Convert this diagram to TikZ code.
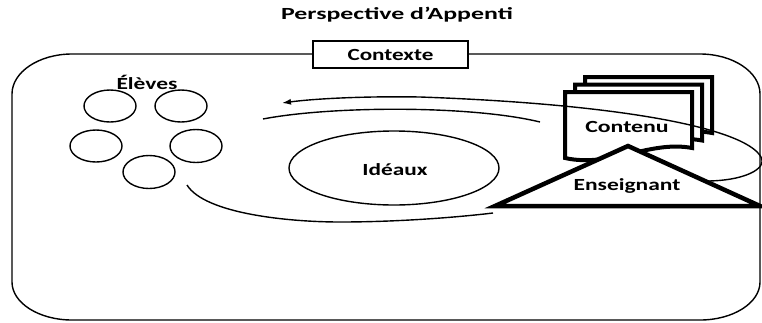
\documentclass[tikz,border=0pt]{standalone}
\usepackage{fontspec}
\setmainfont{Carlito}
\usepackage{graphicx}
\usetikzlibrary{arrows.meta}
\newcommand{\wtext}[2]{\scalebox{#1}[1]{#2}}
\begin{document}
\begin{tikzpicture}[x=1pt,y=-1pt,
  thinline/.style={line width=1.4pt, draw=black},
  thickline/.style={line width=4pt, draw=black, line join=miter},
  lbl/.style={inner sep=0pt, font=\fontsize{17}{20}\selectfont\bfseries},
  titlelbl/.style={inner sep=0pt, font=\fontsize{17}{20}\selectfont\bfseries},
]
\useasboundingbox (0,0) rectangle (762,322);
\begin{scope}
\clip (0,0) rectangle (762,322);

% outer context frame
\draw[thinline] (12,94) .. controls (12,72) and (39,54) .. (72,54)
  -- (700,54) .. controls (733,54) and (760,72) .. (760,94)
  -- (760,282) .. controls (760,303) and (733,320) .. (700,320)
  -- (72,320) .. controls (39,320) and (12,303) .. (12,282) -- cycle;

% title and context box
\node[titlelbl] (title) at (397,15) {\wtext{1.52}{Perspective d’Appenti}};
\node[thinline, line width=1.6pt, fill=white, minimum width=155pt, minimum height=27pt, inner sep=0pt, font=\fontsize{17}{20}\selectfont\bfseries] (ctx) at (390.5,54.5) {\wtext{1.36}{Contexte}};

% pupils
\node[lbl] (eleves) at (147,82) {\wtext{1.38}{Élèves}};
\draw[thinline] (110,106) ellipse [x radius=26, y radius=16];
\draw[thinline] (181,106) ellipse [x radius=26, y radius=16];
\draw[thinline] (96,146) ellipse [x radius=26, y radius=16];
\draw[thinline] (196,146) ellipse [x radius=26, y radius=16.5];
\draw[thinline] (149,172) ellipse [x radius=26, y radius=16.5];

% ideals
\draw[thinline] (394,168) ellipse [x radius=105, y radius=37];
\node[lbl] (ideaux) at (395,170) {\wtext{1.37}{Idéaux}};

% stacked content pages
\foreach \dx/\dy in {20/-15, 10/-7.5, 0/0} {
  \draw[thickline, fill=white, shift={(\dx,\dy)}]
    (565,92) -- (692,92) -- (692,148)
    .. controls (650,140) and (610,168) .. (565,158) -- cycle;
}
\node[lbl] (contenu) at (627,127) {\wtext{1.4}{Contenu}};

% cycle arcs
\coordinate (a1) at (700,181);
\coordinate (a2) at (761,157);
\coordinate (a3) at (420,97);
\coordinate (a4) at (282,103);
\draw[thinline, -{Latex[length=9pt,width=6pt]}] (a1) .. controls (745,182) and (768,168) .. (a2)
  .. controls (745,128) and (620,104) .. (a3)
  .. controls (360,96) and (312,99) .. (a4);

\coordinate (b1) at (263,119);
\coordinate (b2) at (540,122);
\draw[thinline] (b1) .. controls (330,106) and (470,105) .. (b2);

\coordinate (c1) at (187,185);
\coordinate (c2) at (340,222);
\coordinate (c3) at (493,213);
\draw[thinline] (c1) .. controls (205,214) and (290,222) .. (c2)
  .. controls (400,222) and (460,217) .. (c3);

% teacher triangle
\draw[thickline, line width=4.5pt, fill=white] (628,146) -- (760,206) -- (495,206) -- cycle;
\node[lbl] (ens) at (627,186) {\wtext{1.38}{Enseignant}};
\end{scope}
\end{tikzpicture}
\end{document}
